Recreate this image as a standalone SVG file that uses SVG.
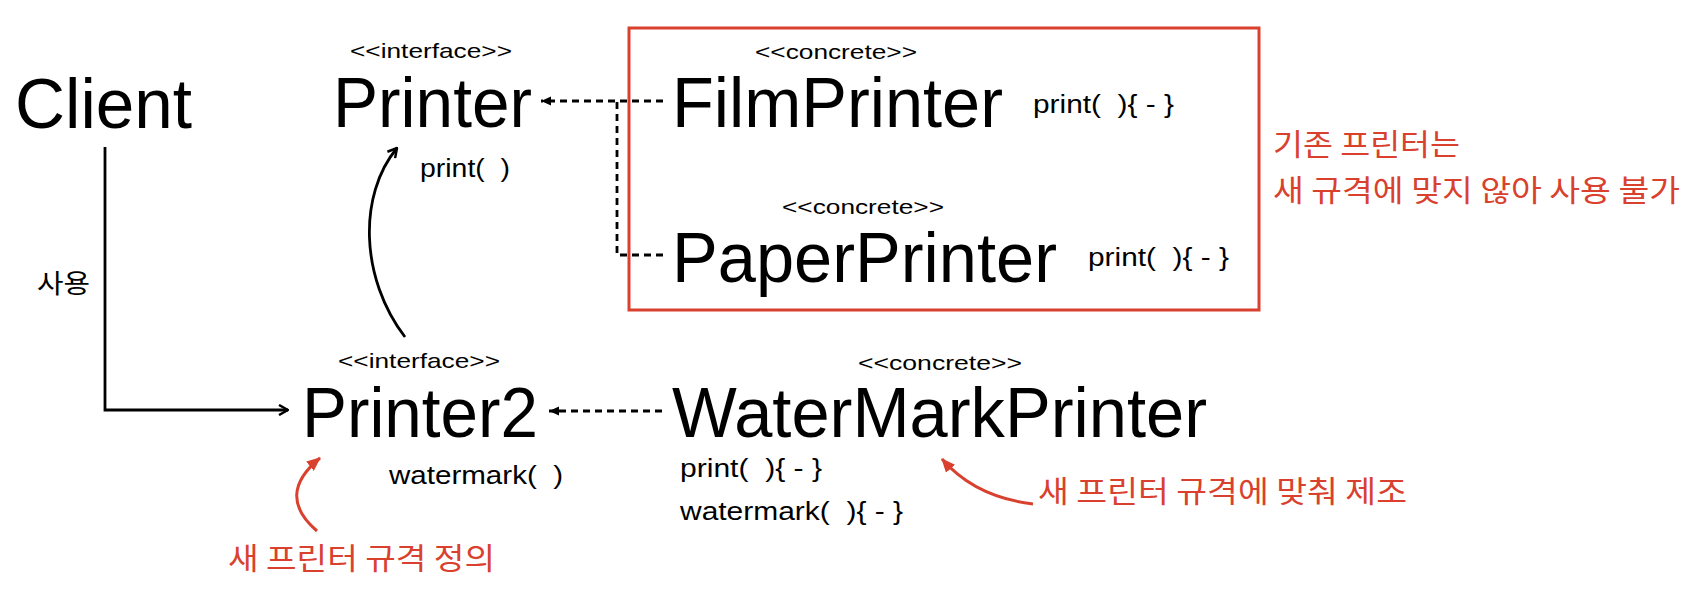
<svg xmlns="http://www.w3.org/2000/svg" width="1694" height="612" viewBox="0 0 1694 612" xml:space="preserve">
<style>
text{font-family:"Liberation Sans","Noto Sans",Arial,sans-serif;fill:#000;white-space:pre}
.big{font-size:70px}
.st{font-size:21px}
.m{font-size:26px}
.ko{font-family:"Noto Sans CJK KR","Noto Sans CJK SC",sans-serif}
.red{fill:#d9412e}
.ln{fill:none;stroke:#000;stroke-width:2.8}
.dash{fill:none;stroke:#000;stroke-width:2.8;stroke-dasharray:7 5}
.rl{fill:none;stroke:#d9412e;stroke-width:3}
</style>
<defs>
<marker id="open" viewBox="0 0 12 12" refX="11" refY="6" markerWidth="12" markerHeight="12" markerUnits="userSpaceOnUse" orient="auto"><path d="M2,1 L11,6 L2,11" fill="none" stroke="#000" stroke-width="2.5"/></marker>
<marker id="filled" viewBox="0 0 10 10" refX="10" refY="5" markerWidth="10" markerHeight="10" markerUnits="userSpaceOnUse" orient="auto"><path d="M0,0.5 L10,5 L0,9.5 Z" fill="#000"/></marker>
<marker id="redhead" viewBox="0 0 14 14" refX="13" refY="7" markerWidth="14" markerHeight="14" markerUnits="userSpaceOnUse" orient="auto"><path d="M0,1 L14,7 L0,13 Z" fill="#d9412e"/></marker>
</defs>
<rect width="1694" height="612" fill="#fff"/>

<g id="connectors">
<path class="ln" d="M105,147 V410 H288" marker-end="url(#open)"/>
<path class="ln" d="M405,337 C360,278 358,195 397,148" marker-end="url(#open)"/>
<path class="dash" d="M663,101 H541" marker-end="url(#filled)"/>
<path class="dash" d="M663,255 H617 V101"/>
<path class="dash" d="M662,411 H549" marker-end="url(#filled)"/>
</g>

<g id="legacy-box">
<rect x="629" y="28" width="630" height="282" fill="none" stroke="#d9412e" stroke-width="3"/>
</g>

<g id="client">
<text class="big" x="15" y="128" font-size="71" textLength="177" lengthAdjust="spacingAndGlyphs">Client</text>
<text class="ko" x="37" y="293" font-size="26" textLength="53" lengthAdjust="spacingAndGlyphs">사용</text>
</g>

<g id="printer">
<text class="st" x="350" y="58" textLength="162" lengthAdjust="spacingAndGlyphs">&lt;&lt;interface&gt;&gt;</text>
<text class="big" x="333" y="127" textLength="199" lengthAdjust="spacingAndGlyphs">Printer</text>
<text class="m" x="420" y="177" textLength="90" lengthAdjust="spacingAndGlyphs">print(  )</text>
</g>

<g id="film-printer">
<text class="st" x="755" y="59" textLength="162" lengthAdjust="spacingAndGlyphs">&lt;&lt;concrete&gt;&gt;</text>
<text class="big" x="672" y="127" textLength="331" lengthAdjust="spacingAndGlyphs">FilmPrinter</text>
<text class="m" x="1033" y="113" textLength="141" lengthAdjust="spacingAndGlyphs">print(  ){ - }</text>
</g>

<g id="paper-printer">
<text class="st" x="782" y="214" textLength="162" lengthAdjust="spacingAndGlyphs">&lt;&lt;concrete&gt;&gt;</text>
<text class="big" x="672" y="282" textLength="385" lengthAdjust="spacingAndGlyphs">PaperPrinter</text>
<text class="m" x="1088" y="266" textLength="141" lengthAdjust="spacingAndGlyphs">print(  ){ - }</text>
</g>

<g id="printer2">
<text class="st" x="338" y="368" textLength="162" lengthAdjust="spacingAndGlyphs">&lt;&lt;interface&gt;&gt;</text>
<text class="big" x="302" y="437" textLength="236" lengthAdjust="spacingAndGlyphs">Printer2</text>
<text class="m" x="389" y="484" textLength="174" lengthAdjust="spacingAndGlyphs">watermark(  )</text>
</g>

<g id="watermark-printer">
<text class="st" x="858" y="370" textLength="164" lengthAdjust="spacingAndGlyphs">&lt;&lt;concrete&gt;&gt;</text>
<text class="big" x="672" y="437" textLength="535" lengthAdjust="spacingAndGlyphs">WaterMarkPrinter</text>
<text class="m" x="680" y="477" textLength="142" lengthAdjust="spacingAndGlyphs">print(  ){ - }</text>
<text class="m" x="680" y="520" textLength="223" lengthAdjust="spacingAndGlyphs">watermark(  ){ - }</text>
</g>

<g id="annotations">
<text class="ko red" x="1273" y="155" font-size="30" textLength="187" lengthAdjust="spacingAndGlyphs">기존 프린터는</text>
<text class="ko red" x="1273" y="201" font-size="30" textLength="407" lengthAdjust="spacingAndGlyphs">새 규격에 맞지 않아 사용 불가</text>
<path class="rl" d="M317,531 Q275,495 320,458" marker-end="url(#redhead)"/>
<text class="ko red" x="228" y="569" font-size="30" textLength="267" lengthAdjust="spacingAndGlyphs">새 프린터 규격 정의</text>
<path class="rl" d="M1033,504 Q975,497 942,459" marker-end="url(#redhead)"/>
<text class="ko red" x="1038" y="502" font-size="30" textLength="369" lengthAdjust="spacingAndGlyphs">새 프린터 규격에 맞춰 제조</text>
</g>
</svg>
